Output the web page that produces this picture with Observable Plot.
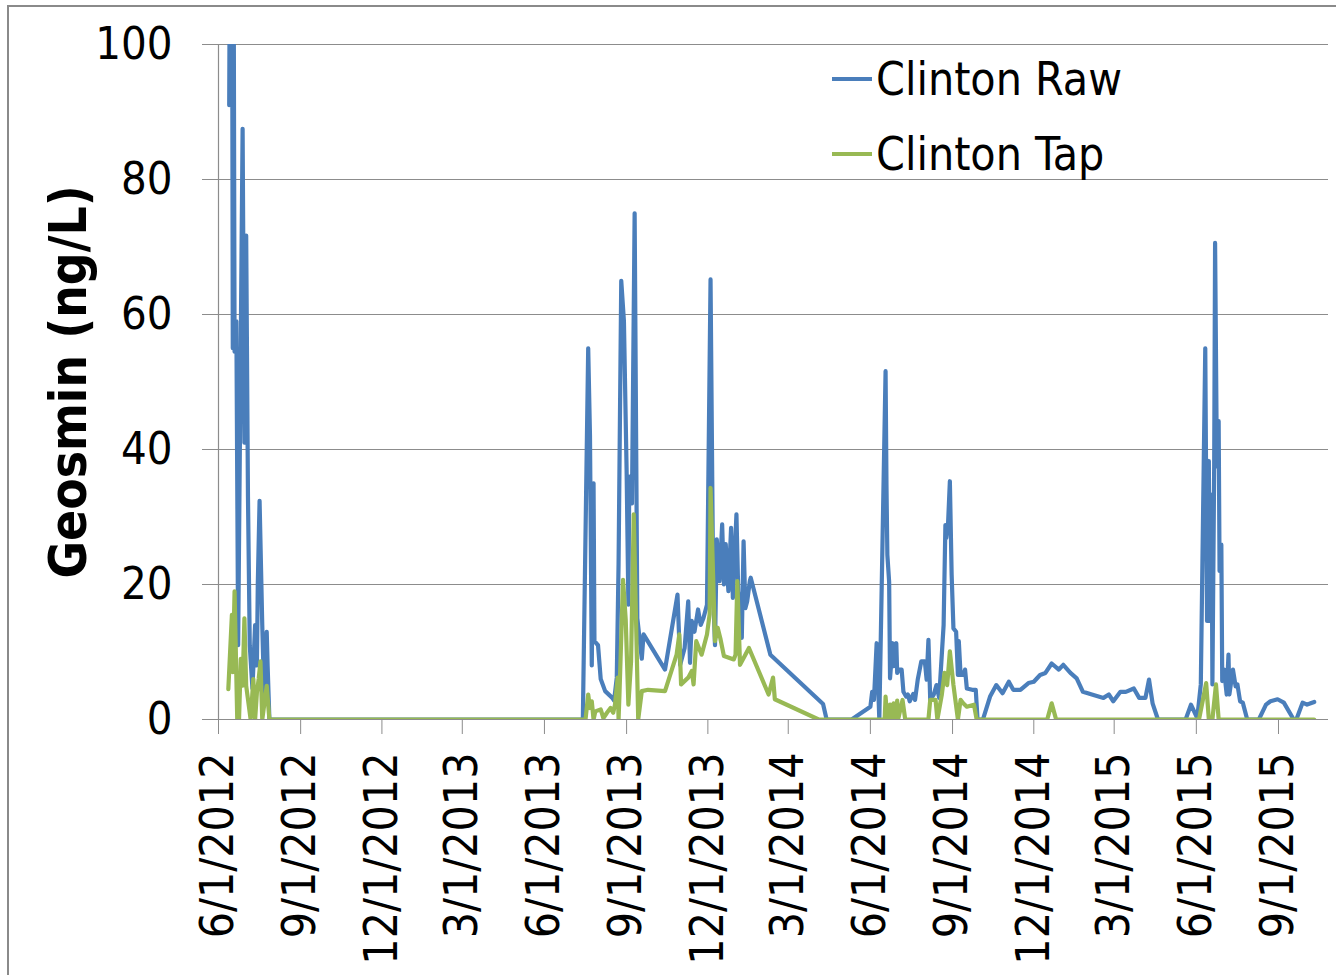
<!DOCTYPE html>
<html>
<head>
<meta charset="utf-8">
<script src="https://cdn.jsdelivr.net/npm/d3@7"></script>
<script src="https://cdn.jsdelivr.net/npm/@observablehq/plot@0.6"></script>
<style>
  html, body { margin: 0; padding: 0; background: #fff; }
  #wrap { position: relative; width: 1336px; height: 975px; overflow: hidden; background: #fff; }
  #frame { position: absolute; left: 7px; top: 5px; width: 1500px; height: 1200px; border: 2px solid #8a8a8a; box-sizing: border-box; }
  #chart { position: absolute; left: 0; top: 0; }
  #legend { position: absolute; left: 0; top: 0; }
  .f { font-family: "DejaVu Sans Condensed", "DejaVu Sans", sans-serif; font-stretch: condensed; }
</style>
</head>
<body>
<div id="wrap"><div id="frame"></div><div id="chart"></div><svg id="legend" width="1336" height="200"></svg></div>
<script>
// ---- data ----
const seriesNames = ["Clinton Raw", "Clinton Tap"];
const seriesColors = ["#4a7ebb", "#98b954"];
const yTicks = [0, 20, 40, 60, 80, 100];
const xTickDates = ["2012-06-01","2012-09-01","2012-12-01","2013-03-01","2013-06-01","2013-09-01","2013-12-01",
  "2014-03-01","2014-06-01","2014-09-01","2014-12-01","2015-03-01","2015-06-01","2015-09-01"];
const xDomain = ["2012-06-01", "2015-10-27"];
const yLabel = "Geosmin (ng/L)";

const rawDates = [
  "2012-06-13","2012-06-14","2012-06-15","2012-06-16","2012-06-17","2012-06-18","2012-06-19","2012-06-21","2012-06-23",
  "2012-06-28","2012-06-30","2012-07-02","2012-07-04","2012-07-06","2012-07-09","2012-07-12","2012-07-14","2012-07-15",
  "2012-07-17","2012-07-20","2012-07-22","2012-07-25","2012-07-26","2012-07-28",
  "2013-07-14","2013-07-20","2013-07-22","2013-07-24","2013-07-26","2013-07-27","2013-07-31","2013-08-03","2013-08-08",
  "2013-08-16","2013-08-18","2013-08-21","2013-08-23","2013-08-26","2013-08-29","2013-09-01","2013-09-03","2013-09-04",
  "2013-09-07","2013-09-10","2013-09-13","2013-09-18","2013-09-20","2013-10-14","2013-10-28","2013-10-31","2013-11-05",
  "2013-11-09","2013-11-11","2013-11-13","2013-11-16","2013-11-20","2013-11-23","2013-11-26","2013-11-30","2013-12-04",
  "2013-12-07","2013-12-09","2013-12-11","2013-12-14","2013-12-17","2013-12-19","2013-12-21","2013-12-24","2013-12-27",
  "2013-12-29","2014-01-02","2014-01-04","2014-01-06","2014-01-08","2014-01-10","2014-01-12","2014-01-14","2014-01-17",
  "2014-01-18","2014-02-09","2014-04-09","2014-04-13",
  "2014-05-11","2014-06-01","2014-06-03","2014-06-05","2014-06-08","2014-06-11","2014-06-18","2014-06-19","2014-06-20",
  "2014-06-22","2014-06-23","2014-06-26","2014-06-27","2014-06-30","2014-07-01","2014-07-03","2014-07-06","2014-07-08",
  "2014-07-11","2014-07-13","2014-07-15","2014-07-19","2014-07-21","2014-07-24","2014-07-28","2014-08-01","2014-08-03",
  "2014-08-05","2014-08-07","2014-08-11","2014-08-14","2014-08-17","2014-08-22","2014-08-24","2014-08-25","2014-08-27",
  "2014-08-29","2014-08-31","2014-09-02","2014-09-05","2014-09-07","2014-09-08","2014-09-10","2014-09-13","2014-09-15",
  "2014-09-17","2014-09-23","2014-09-27","2014-09-29","2014-10-05","2014-10-13","2014-10-20","2014-10-27","2014-11-03",
  "2014-11-08","2014-11-16","2014-11-25","2014-12-01","2014-12-08","2014-12-14","2014-12-21","2014-12-29","2015-01-03",
  "2015-01-11","2015-01-18","2015-01-25","2015-02-04","2015-02-17","2015-02-23","2015-02-28","2015-03-08","2015-03-14",
  "2015-03-23","2015-03-29","2015-04-05","2015-04-09","2015-04-13","2015-04-19","2015-05-20","2015-05-26","2015-06-02",
  "2015-06-06","2015-06-11","2015-06-13","2015-06-15","2015-06-16","2015-06-18","2015-06-19","2015-06-21","2015-06-22",
  "2015-06-24","2015-06-26","2015-06-27","2015-06-29","2015-06-30","2015-07-02","2015-07-05","2015-07-07","2015-07-08",
  "2015-07-12","2015-07-15","2015-07-17","2015-07-20","2015-07-23","2015-07-28","2015-08-10","2015-08-18","2015-08-23",
  "2015-08-31","2015-09-07","2015-09-18","2015-09-21","2015-09-28","2015-10-03","2015-10-07","2015-10-11"
];
const rawValues = [
  91,125,97,130,55,110,54.5,59,11,
  87.5,41,71.7,33,11,4.6,14,8,20,
  32.4,14,4,13,8,0,
  0,55,42,8,35,11.6,11,6,4.2,
  3.2,2.8,6.2,23,65,59,37,17,36,
  32,75,15,9,12.6,7.4,18.5,8.1,10.6,
  17.5,8.4,14.6,13,16.3,14,15,17,65.2,
  18.5,11,26.7,20.5,28.9,20,26,19,28.4,
  18,30.4,19,17,12.1,26.4,16.5,17.5,20.5,
  21,9.6,2.3,0,
  0,1.9,4.1,2.9,11.3,0,51.6,34.8,24.4,
  20.4,6.1,11.3,7.9,11.3,6.9,7.4,7.4,4.1,
  3.4,3.7,2.7,3.8,2.9,5.9,8.6,8.6,5.9,
  11.8,2.9,3.7,5.1,3.2,14,28.8,26.9,29.1,
  35.3,21.4,13.5,13,6.6,11.6,6.6,6.6,7.4,
  4.6,4.4,4.4,0,0,3.4,5.1,3.9,5.6,
  4.4,4.4,5.4,5.6,6.6,6.9,8.3,7.4,8.1,
  6.9,6.1,4.1,3.7,3.2,3.7,2.7,4.1,4.1,
  4.6,3.2,3.2,5.9,2.4,0,0,2.2,0.2,
  5.2,55,14.6,38.3,14.6,33.3,5.2,37.8,70.6,
  37.5,44.2,22,25.9,5.7,7.4,3.7,9.6,3.7,
  7.4,4.9,5.2,2.7,2.5,0,0,2.2,2.7,
  3,2.5,0,0,2.5,2.2,2.4,2.6
];

const tapDates = [
  "2012-06-12","2012-06-16","2012-06-17","2012-06-19","2012-06-22","2012-06-24","2012-06-26","2012-06-28","2012-06-30",
  "2012-07-02","2012-07-04","2012-07-07","2012-07-10","2012-07-12","2012-07-14","2012-07-16","2012-07-18","2012-07-20",
  "2012-07-23","2012-07-25","2012-07-28",
  "2013-07-17","2013-07-20","2013-07-22","2013-07-24","2013-07-26","2013-07-28","2013-08-03","2013-08-06","2013-08-10",
  "2013-08-14","2013-08-17","2013-08-19","2013-08-22","2013-08-23","2013-08-24","2013-08-28","2013-08-31","2013-09-03",
  "2013-09-06","2013-09-09","2013-09-14","2013-09-18","2013-09-25","2013-10-14","2013-10-27","2013-10-30","2013-11-01",
  "2013-11-09","2013-11-13","2013-11-15","2013-11-18","2013-11-24","2013-11-30","2013-12-03","2013-12-04","2013-12-09",
  "2013-12-12","2013-12-15","2013-12-19","2013-12-30","2014-01-01","2014-01-03","2014-01-06","2014-01-12","2014-01-16",
  "2014-02-07","2014-02-12","2014-02-14","2014-04-04",
  "2014-06-17","2014-06-18","2014-06-20","2014-06-23","2014-06-25","2014-06-27","2014-06-29","2014-07-01","2014-07-02",
  "2014-07-07","2014-07-10","2014-08-05","2014-08-07","2014-08-13","2014-08-15","2014-08-20","2014-08-23","2014-08-26",
  "2014-08-29","2014-09-02","2014-09-07","2014-09-10","2014-09-13","2014-09-17","2014-09-25","2014-09-28","2014-12-16",
  "2014-12-21","2014-12-26","2015-06-04","2015-06-12","2015-06-15","2015-06-19","2015-06-23","2015-06-26","2015-10-11"
];
const tapValues = [
  4.5,15.5,7,19,0,0,9,5,15,
  5,3,0,6,0,4,6,8.6,0,
  3,5,0,
  0,3.7,1.7,2.7,0,1.2,1.5,0.2,1,
  1.7,1,2.2,6.2,0,3.7,20.7,14.8,2.2,
  8.6,30.4,0,4.2,4.4,4.2,9.6,12.6,5.2,
  6.2,7.2,5.2,11.6,9.6,12.6,15.6,34.3,11.6,
  13.6,12,9.4,8.9,9.6,20.5,8.1,9.6,10.6,
  3.7,6.2,3,0,
  0,3.4,0,2.2,0,2.4,0,2.8,0,
  2.9,0,0,2.9,2.9,0,3.7,6.9,5.1,
  10.1,5.1,0,2.9,2.4,1.9,2.2,0,0,
  2.4,0,0,5.4,0,0,5.2,0,0
];

// ---- build ----
const parse = d3.utcParse("%Y-%m-%d");
const raw = rawDates.map((d, i) => ({date: parse(d), value: rawValues[i]}));
const tap = tapDates.map((d, i) => ({date: parse(d), value: tapValues[i]}));
const xTicks = xTickDates.map(parse);
const fmt = d => `${d.getUTCMonth() + 1}/${d.getUTCDate()}/${d.getUTCFullYear()}`;
const FONT = '"DejaVu Sans Condensed", "DejaVu Sans", sans-serif';
const GRID = "#8c8c8c";
const LW = 4.2;

const chart = Plot.plot({
  width: 1336,
  height: 975,
  marginTop: 44,
  marginRight: 8,
  marginBottom: 256,
  marginLeft: 218,
  style: {fontFamily: FONT, fontSize: "45px", color: "#000", background: "transparent", overflow: "visible", fontStretch: "condensed"},
  x: {type: "utc", domain: xDomain.map(parse)},
  y: {domain: [0, 100]},
  marks: [
    Plot.ruleY(yTicks, {stroke: GRID, strokeWidth: 1.2, insetLeft: -16}),
    Plot.ruleX([parse(xDomain[0])], {stroke: GRID, strokeWidth: 1.2}),
    Plot.axisY({ticks: yTicks, tickSize: 0, tickPadding: 46, fontSize: 45, label: null}),
    Plot.axisX({ticks: xTicks, tickFormat: fmt, tickSize: 15, tickRotate: -90, stroke: GRID, tickPadding: 18, fontSize: 46, label: null}),
    Plot.line(raw, {x: "date", y: "value", stroke: seriesColors[0], strokeWidth: LW, clip: true}),
    Plot.line(tap, {x: "date", y: "value", stroke: seriesColors[1], strokeWidth: LW, clip: true}),
    Plot.text([yLabel], {frameAnchor: "left", textAnchor: "middle", dx: -149, rotate: -90, fontWeight: "bold", fontSize: 51, text: d => d, fill: "#000"})
  ]
});
document.getElementById("chart").appendChild(chart);

// ---- legend ----
const lg = d3.select("#legend");
seriesNames.forEach((name, i) => {
  const cy = 79 + i * 75;
  lg.append("line").attr("x1", 832).attr("x2", 872).attr("y1", cy).attr("y2", cy)
    .attr("stroke", seriesColors[i]).attr("stroke-width", LW);
  lg.append("text").attr("class", "f").attr("x", 876).attr("y", cy + 16)
    .attr("font-size", 46).attr("fill", "#000").text(name);
});
</script>
</body>
</html>
